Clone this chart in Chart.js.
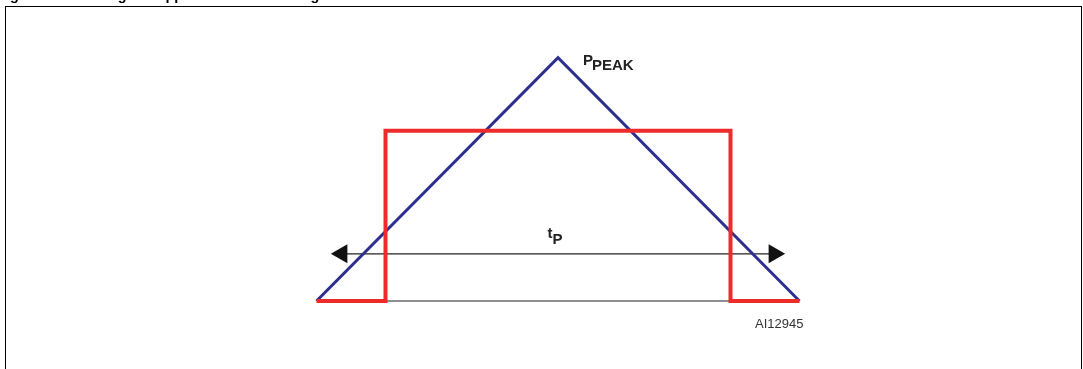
<!DOCTYPE html>
<html>
<head>
<meta charset="utf-8">
<script src="https://cdn.jsdelivr.net/npm/chart.js@4.4.1/dist/chart.umd.min.js"></script>
<style>
  html, body { margin: 0; padding: 0; background: #fff; width: 1083px; height: 369px; overflow: hidden; }
  #frame { position: absolute; left: 5px; top: 6px; width: 1077px; height: 400px; border: 1px solid #000; box-sizing: border-box; }
  #c { position: absolute; left: 0; top: 0; }
</style>
</head>
<body>
<div id="frame"></div>
<canvas id="c" width="1083" height="369"></canvas>
<script>
// ---- data (time in units of half the triangle base, power in units of P_PEAK) ----
const triangleT = [0, 1, 2];
const triangleP = [0, 1, 0];
const rectT = [0, 0.2857, 0.2857, 1.7143, 1.7143, 2];
const rectP = [0, 0, 0.7, 0.7, 0, 0];
const baseT = [0.2857, 1.7143];
const baseP = [0, 0];
const arrowT = [0.105, 1.895];
const arrowP = [0.194, 0.194];
const titleText = 'Figure 12. Rectangular approximation of triangular';
const peakLabel = ['P', 'PEAK'];
const tpLabel = ['t', 'P'];
const figId = 'AI12945';

const zip = (xs, ys) => xs.map((x, i) => ({ x: x, y: ys[i] }));
const FONT = "'Liberation Sans', Arial, Helvetica, sans-serif";

const labelsPlugin = {
  id: 'labels',
  afterDatasetsDraw(chart) {
    const ctx = chart.ctx;
    const xs = chart.scales.x, ys = chart.scales.y;
    ctx.save();
    ctx.textBaseline = 'alphabetic';
    ctx.textAlign = 'left';
    // cropped figure title (only descenders visible)
    ctx.fillStyle = '#000';
    ctx.font = 'bold 14.5px ' + FONT;
    ctx.fillText(titleText, -3, 0);
    // P_PEAK
    const ax = xs.getPixelForValue(triangleT[1]);
    const ay = ys.getPixelForValue(triangleP[1]);
    ctx.fillStyle = '#222';
    ctx.font = 'bold 15px ' + FONT;
    ctx.fillText(peakLabel[0], ax + 25, ay + 7.5);
    const w1 = ctx.measureText(peakLabel[0]).width;
    ctx.fillText(peakLabel[1], ax + 25 + w1 - 1, ay + 12.5);
    // t_P
    const mx = xs.getPixelForValue((arrowT[0] + arrowT[1]) / 2);
    const my = ys.getPixelForValue(arrowP[0]);
    ctx.font = 'bold 15px ' + FONT;
    const tw = ctx.measureText(tpLabel[0]).width;
    const pw = ctx.measureText(tpLabel[1]).width;
    const sx = mx - (tw + pw) / 2 - 3;
    ctx.fillText(tpLabel[0], sx, my - 15.5);
    ctx.fillText(tpLabel[1], sx + tw, my - 10);
    // figure id
    ctx.fillStyle = '#333';
    ctx.font = '13px ' + FONT;
    ctx.textAlign = 'right';
    ctx.fillText(figId, xs.getPixelForValue(triangleT[2]) + 4, ys.getPixelForValue(0) + 26.5);
    ctx.restore();
  }
};

new Chart(document.getElementById('c'), {
  type: 'scatter',
  data: {
    datasets: [
      {
        label: 'Rectangular approximation',
        data: zip(rectT, rectP),
        showLine: true,
        borderColor: '#ee2b2b',
        borderWidth: 4,
        borderJoinStyle: 'miter',
        borderCapStyle: 'butt',
        pointRadius: 0,
        tension: 0,
        clip: false
      },
      {
        label: 'Triangular pulse',
        data: zip(triangleT, triangleP),
        showLine: true,
        borderColor: '#2d2f8e',
        borderWidth: 3,
        borderJoinStyle: 'miter',
        pointRadius: 0,
        tension: 0,
        clip: false
      },
      {
        label: 'tP',
        data: zip(arrowT, arrowP),
        showLine: true,
        borderColor: '#222',
        borderWidth: 1.2,
        pointStyle: 'triangle',
        pointRadius: 11,
        pointRotation: [-90, 90],
        pointBackgroundColor: '#111',
        pointBorderWidth: 0,
        tension: 0,
        clip: false
      },
      {
        label: 'Baseline',
        data: zip(baseT, baseP),
        showLine: true,
        borderColor: '#222',
        borderWidth: 1.2,
        pointRadius: 0,
        tension: 0,
        clip: false
      }
    ]
  },
  options: {
    responsive: false,
    devicePixelRatio: 1,
    animation: false,
    events: [],
    layout: { padding: { left: 316.5, right: 283.5, top: 57.7, bottom: 68 } },
    scales: {
      x: { type: 'linear', min: 0, max: 2, display: false },
      y: { type: 'linear', min: 0, max: 1, display: false }
    },
    plugins: {
      legend: { display: false },
      tooltip: { enabled: false },
      title: { display: false }
    }
  },
  plugins: [labelsPlugin]
});
</script>
</body>
</html>
